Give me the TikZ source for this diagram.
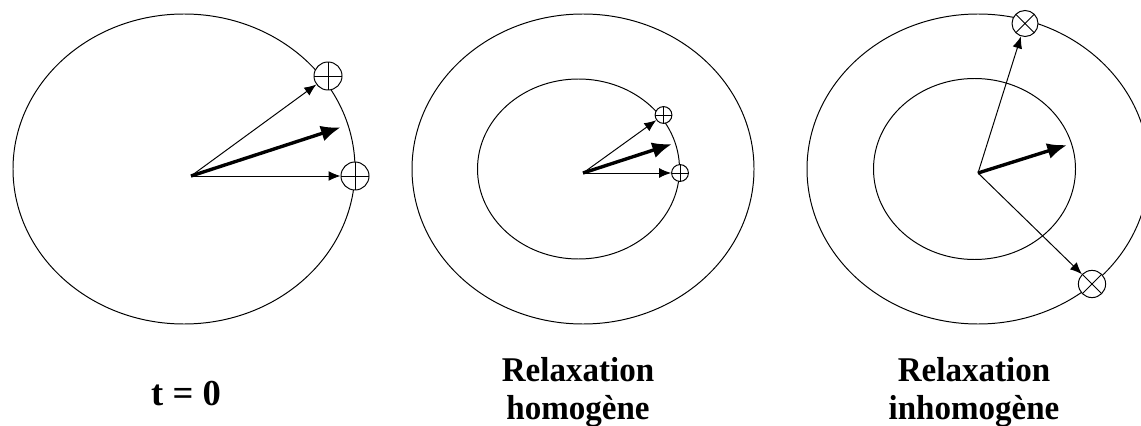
\documentclass[tikz,border=0pt]{standalone}
\usepackage{fontspec}
\setmainfont{Liberation Serif}
\usetikzlibrary{arrows.meta,positioning,calc}

\begin{document}
\begin{tikzpicture}[x=0.025cm,y=-0.025cm,line width=0.7pt,
	spin/.style={line width=0.7pt,-{Latex[length=8.5pt,width=7pt]}},
	total/.style={line width=2.4pt,-{Latex[length=14pt,width=11.5pt]}},
	plusmark/.style={circle,draw,fill=white,inner sep=0pt,minimum size=#1,
		path picture={\draw (path picture bounding box.north) -- (path picture bounding box.south)
			(path picture bounding box.west) -- (path picture bounding box.east);}},
	crossmark/.style={circle,draw,fill=white,inner sep=0pt,minimum size=#1,
		path picture={\draw (path picture bounding box.north west) -- (path picture bounding box.south east)
			(path picture bounding box.north east) -- (path picture bounding box.south west);}},
	caption/.style={font=\bfseries\fontsize{23.5}{26}\selectfont,align=center,inner sep=0pt,
		yscale=1.05,transform shape}]
	\clip (0,0) rectangle (1141,426);
	
	% t = 0
	\draw (184,169) ellipse [x radius=171,y radius=155];
	\coordinate (o1) at (191,176);
	\coordinate (m1) at (340.7,127.3);
	\node[plusmark=0.7cm] (p1a) at (328,76) {};
	\node[plusmark=0.7cm] (p1b) at (355,176) {};
	\draw[spin] (o1) -- (p1a);
	\draw[spin] (o1) -- (p1b);
	\draw[total] (o1) -- (m1);
	
	% relaxation homogene
	\draw (583,169) ellipse [x radius=171,y radius=155];
	\draw (578.5,169) ellipse [x radius=101,y radius=90];
	\coordinate (o2) at (583,173);
	\coordinate (m2) at (672,144);
	\node[plusmark=0.42cm] (p2a) at (663.5,115) {};
	\node[plusmark=0.42cm] (p2b) at (680,173) {};
	\draw[spin] (o2) -- (p2a);
	\draw[spin] (o2) -- (p2b);
	\draw[total] (o2) -- (m2);
	
	% relaxation inhomogene
	\draw (978,169) ellipse [x radius=171,y radius=155];
	\draw (974.5,169) ellipse [x radius=101,y radius=90.5];
	\coordinate (o3) at (978,173);
	\coordinate (m3) at (1067,145);
	\node[crossmark=0.65cm] (x3a) at (1025,23.5) {};
	\node[crossmark=0.68cm] (x3b) at (1092,284) {};
	\draw[spin] (o3) -- (x3a);
	\draw[spin] (o3) -- (x3b);
	\draw[total] (o3) -- (m3);
	
	\node[font=\bfseries\fontsize{26}{30}\selectfont,anchor=base] (t0) at (186,405) {t = 0};
	\node[caption] (hom) at (578,392) {Relaxation\\homogène};
	\node[caption] (inhom) at (974,392) {Relaxation\\inhomogène};
\end{tikzpicture}
\end{document}
